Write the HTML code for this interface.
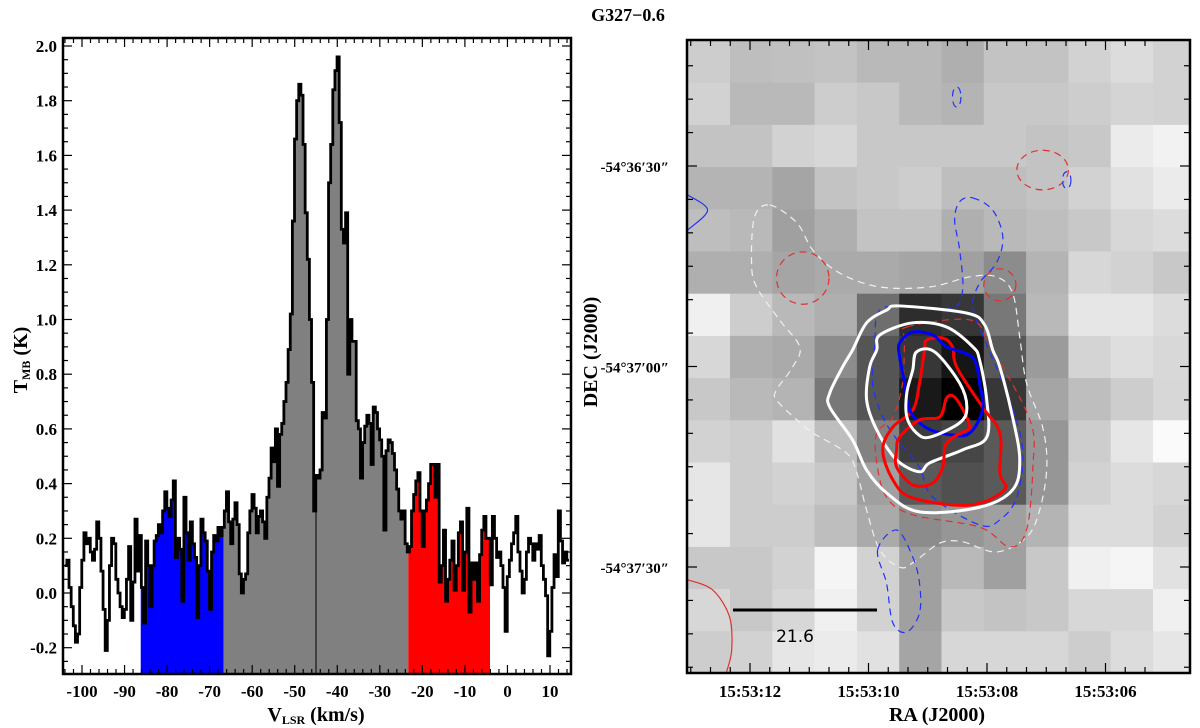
<!DOCTYPE html>
<html><head><meta charset="utf-8"><style>
html,body{margin:0;padding:0;background:#fff}
svg{display:block;font-family:"Liberation Serif",serif;font-weight:bold}
</style></head><body>
<svg id="fig" width="1200" height="728" viewBox="0 0 1200 728">
<text x="628" y="21" font-size="18" text-anchor="middle">G327−0.6</text>
<g id="left"></g>
<g id="right"></g>
</svg>
<script>
// ---------- spectrum data ----------
const specStartV = -103.8;
const specDV = 0.5;
const specT = [
.10,.12,.02,-.05,-.12,-.18,-.15,.02,.12,.22,
.18,.20,.15,.12,.16,.26,.20,.08,-.06,-.21,
-.10,.10,.20,.18,.05,0,-.05,-.09,-.06,.05,
.17,-.10,.04,.27,.08,.21,.02,-.11,.19,.10,
-.05,.10,.19,.21,.25,.22,.30,.37,.31,.28,
.34,.41,.13,.20,.16,-.03,.35,.22,.12,.26,
.18,.13,-.09,.10,.27,.22,.19,.08,-.06,.15,
.21,.19,.24,.21,.24,.30,.37,.26,.18,.27,
.33,.25,.07,0,.05,.07,.22,.30,.36,.31,
.22,.28,.30,.26,.20,.35,.42,.53,.48,.60,
.39,.58,.62,.70,.77,.89,1.02,1.36,1.66,1.80,
1.86,1.82,1.64,1.39,1.22,1.00,.77,.30,.43,.42,
.45,.66,.64,1.00,1.50,1.64,1.84,1.91,1.96,1.72,
1.33,1.28,1.39,.80,1.00,.92,.92,.63,.60,.42,
.55,.61,.65,.62,.47,.68,.66,.60,.56,.50,
.23,.52,.56,.55,.51,.45,.38,.30,.27,.30,
.18,.15,.17,.30,.36,.41,.44,.30,.17,.30,
.34,.40,.47,.47,.35,.47,.04,.10,.23,-.03,
.05,.12,.19,.01,.10,.22,.26,.01,.15,.31,
-.07,.11,.05,.11,-.03,.14,.23,.28,.20,.20,
.03,.28,.20,.13,.15,.10,.02,-.14,.06,.12,
.18,.22,.28,.15,.08,0,.05,.15,.20,.18,
.12,.18,.16,.21,.10,.05,-.01,-.23,-.14,.02,
.14,.06,.30,.19,.11,.15,.12];
const fillRanges = [[-86.2,-66.7,'#0000ff'],[-66.7,-23.3,'#808080'],[-23.3,-4.1,'#ff0000']];
const markerV = -45;
const xTickVals = [-100,-90,-80,-70,-60,-50,-40,-30,-20,-10,0,10];
const yTickVals = [-0.2,0,0.2,0.4,0.6,0.8,1.0,1.2,1.4,1.6,1.8,2.0];

// ---------- map data ----------
const mapGray = [
[205,190,192,195,185,185,175,195,195,210,220,210],
[210,185,185,205,200,185,180,200,200,205,212,210],
[195,195,210,215,200,200,200,200,195,200,235,242],
[180,180,165,195,200,205,190,190,195,210,225,235],
[190,185,160,175,195,195,175,185,190,200,215,220],
[175,175,165,170,170,165,160,140,180,215,210,200],
[240,205,185,175,110,45,55,120,185,230,230,220],
[215,175,170,140,85,55,22,88,155,212,222,216],
[200,185,180,120,85,25,0,55,165,190,205,215],
[210,205,225,190,130,60,70,90,150,205,230,250],
[230,205,210,200,160,90,80,90,150,210,220,215],
[230,205,205,190,170,140,150,160,180,220,220,210],
[200,200,210,245,210,160,185,160,200,240,245,225],
[215,200,215,240,210,160,200,195,200,215,215,240],
[205,210,230,235,225,165,215,215,215,205,220,230]];
const raTicks = ['15:53:12','15:53:10','15:53:08','15:53:06'];
const decTicks = ['-54°36′30″','-54°37′00″','-54°37′30″'];
const cWhiteOuter=[[5.01,6.29],[6.60,6.46],[7.02,6.74],[7.21,7.33],[7.38,7.74],[7.68,8.92],[7.85,9.94],[7.68,10.65],[6.90,11.06],[5.48,11.17],[4.70,10.72],[4.23,10.18],[3.90,9.47],[3.36,8.69],[3.36,8.35],[3.66,7.74],[3.90,7.33],[4.23,6.69],[4.70,6.39]];
const cWhiteMid=[[4.54,6.98],[5.32,6.69],[6.12,6.79],[6.74,7.26],[6.90,7.57],[7.07,8.52],[7.07,9.40],[6.50,9.70],[5.72,10.01],[5.48,10.22],[4.94,9.94],[4.47,9.23],[4.23,8.52],[4.30,7.74],[4.47,7.33]];
const cWhiteIn=[[5.41,7.38],[5.84,7.38],[6.43,8.12],[6.60,8.69],[6.43,9.06],[5.72,9.40],[5.41,9.30],[5.18,8.92],[5.18,8.35],[5.32,7.81]];
const cBlue=[[5.01,7.17],[5.32,6.91],[5.79,6.98],[6.12,7.26],[6.74,7.52],[6.90,8.12],[6.97,8.76],[6.67,9.30],[6.26,9.35],[5.65,9.18],[5.25,8.76],[5.13,8.12],[5.01,7.50]];
const cRedOuter=[[5.65,7.10],[6.03,7.05],[6.26,7.26],[6.36,7.74],[6.97,8.69],[7.38,9.30],[7.38,10.25],[7.49,10.65],[6.67,11.01],[5.32,10.84],[4.85,10.41],[4.61,9.70],[4.85,9.16],[5.32,8.76],[5.48,8.12],[5.60,7.33]];
const cRedInner=[[4.94,9.70],[5.01,9.40],[5.48,8.99],[5.96,8.92],[6.12,8.47],[6.31,8.45],[6.55,8.83],[6.67,9.16],[6.60,9.23],[6.12,9.54],[6.03,10.11],[5.79,10.49],[5.32,10.53],[4.94,10.11]];
const cWhiteDash=[[1.94,3.90],[2.58,4.32],[2.96,4.97],[3.59,5.51],[4.54,5.84],[5.72,5.84],[6.67,5.60],[7.30,5.60],[7.68,5.98],[7.85,7.03],[8.01,8.12],[8.39,9.16],[8.49,10.11],[8.32,11.13],[8.01,11.77],[7.30,12.12],[6.50,11.88],[5.96,11.91],[5.32,12.38],[5.01,12.48],[4.54,12.07],[4.23,11.13],[4.00,10.25],[3.76,9.78],[2.96,9.30],[2.58,8.99],[2.10,8.52],[2.10,8.28],[2.48,7.74],[2.65,7.26],[2.17,6.62],[1.63,5.84],[1.51,5.27],[1.58,4.18]];
const cBlueDashTall=[[6.74,3.73],[7.21,4.02],[7.45,4.66],[7.30,5.27],[6.90,5.75],[6.74,6.32],[7.02,7.10],[7.61,8.52],[7.92,9.70],[7.78,10.82],[7.38,11.36],[6.90,11.48],[5.79,10.82],[5.48,10.11],[5.01,9.54],[4.61,8.92],[4.37,8.12],[4.42,7.26],[4.54,6.39],[5.32,6.32],[6.26,6.34],[6.50,5.91],[6.43,4.97],[6.31,4.25],[6.43,3.82]];
const cBlueDashLow=[[4.49,12.07],[4.94,11.60],[5.32,12.24],[5.48,12.86],[5.48,13.57],[5.18,14.02],[4.85,13.80],[4.70,12.86]];
const cRedDashCore=[[5.18,6.79],[6.67,6.62],[7.14,7.22],[8.09,8.99],[8.16,10.11],[8.01,11.60],[7.61,12.00],[6.90,11.53],[5.32,11.24],[4.70,10.82],[4.47,10.01],[4.47,9.30],[4.85,8.92],[5.08,8.12],[5.13,7.10]];
const ellipses=[[6.36,1.34,0.10,0.24,'#2030ff'],[8.39,3.07,0.61,0.47,'#e03030'],[8.96,3.31,0.10,0.20,'#2030ff'],[2.72,5.63,0.62,0.62,'#e03030'],[7.38,5.79,0.38,0.38,'#e03030']];
const cBlueEdge=[[0,3.66],[0.47,4.02],[0,4.49]];
const cRedEdge=[[0,12.78],[0.59,13.02],[0.99,13.66],[1.04,14.44],[0.92,14.96]];

const NS='http://www.w3.org/2000/svg';
function mk(parent,tag,attrs){const e=document.createElementNS(NS,tag);for(const k in attrs)e.setAttribute(k,attrs[k]);parent.appendChild(e);return e;}

// ---------- left panel ----------
const L={x0:63,x1:571,y0:38,y1:674};
const xs=v=>82+(v+100)*4.2545;
const ys=t=>593-t*273.5;
const left=document.getElementById('left');
const defs=mk(left,'defs',{});
fillRanges.forEach((r,i)=>{const cp=mk(defs,'clipPath',{id:'cp'+i});mk(cp,'rect',{x:xs(r[0]),y:L.y0,width:xs(r[1])-xs(r[0]),height:L.y1-L.y0});});
const cpf=mk(defs,'clipPath',{id:'cpframe'});mk(cpf,'rect',{x:L.x0,y:L.y0,width:L.x1-L.x0,height:L.y1-L.y0});
let line='';
specT.forEach((t,i)=>{const v=specStartV+i*specDV;const a=xs(v-specDV/2),b=xs(v+specDV/2);line+=(i===0?'M'+a+','+ys(t):'V'+ys(t))+'H'+b;});
const area=line+'V'+L.y1+'H'+xs(specStartV-specDV/2)+'Z';
fillRanges.forEach((r,i)=>{const p=mk(left,'path',{d:area,fill:r[2],'clip-path':'url(#cp'+i+')'});

});
const mi=Math.round((markerV-specStartV)/specDV);
const mk1=mk(left,'line',{x1:xs(markerV),x2:xs(markerV),y1:L.y1,y2:ys(specT[mi]),stroke:'#000','stroke-width':1});


const sp=mk(left,'path',{d:line,fill:'none',stroke:'#000','stroke-width':2.8,'clip-path':'url(#cpframe)'});


const fr=mk(left,'rect',{x:L.x0,y:L.y0,width:L.x1-L.x0,height:L.y1-L.y0,fill:'none',stroke:'#000','stroke-width':2.5});


for(let v=-104;v<=15;v+=2){const X=xs(v),maj=(v%10===0),len=maj?9:5;
mk(left,'line',{x1:X,x2:X,y1:L.y1,y2:L.y1-len,stroke:'#000','stroke-width':1.2});
mk(left,'line',{x1:X,x2:X,y1:L.y0,y2:L.y0+len,stroke:'#000','stroke-width':1.2});}
xTickVals.forEach(v=>{const t=mk(left,'text',{x:xs(v),y:697,'font-size':17,'text-anchor':'middle'});t.textContent=v;

});
for(let k=-6;k<=40;k++){const T=k*0.05,Y=ys(T);if(Y<L.y0||Y>L.y1)continue;const len=(k%4===0)?9:5;
mk(left,'line',{x1:L.x0,x2:L.x0+len,y1:Y,y2:Y,stroke:'#000','stroke-width':1.2});
mk(left,'line',{x1:L.x1,x2:L.x1-len,y1:Y,y2:Y,stroke:'#000','stroke-width':1.2});}
yTickVals.forEach(v=>{const t=mk(left,'text',{x:57,y:ys(v)+6,'font-size':17,'text-anchor':'end'});t.textContent=v.toFixed(1);

});
const xl=mk(left,'text',{x:316,y:721,'font-size':20,'text-anchor':'middle'});
xl.innerHTML='V<tspan font-size="12" dy="3">LSR</tspan><tspan dy="-3"> (km/s)</tspan>';


const yl=mk(left,'text',{x:0,y:0,'font-size':20,'text-anchor':'middle',transform:'translate(27,360) rotate(-90)'});
yl.innerHTML='T<tspan font-size="12" dy="3">MB</tspan><tspan dy="-3"> (K)</tspan>';



// ---------- right panel ----------
const R={x0:687,x1:1190,y0:40,y1:673,cx:687.7,cy:40.5,cw:42.3,ch:42.2};
const gx=c=>R.cx+c*R.cw, gy=r=>R.cy+r*R.ch;
const right=document.getElementById('right');
const d2=mk(right,'defs',{});const cpr=mk(d2,'clipPath',{id:'cpmap'});mk(cpr,'rect',{x:R.x0,y:R.y0,width:R.x1-R.x0,height:R.y1-R.y0});
const mg=mk(right,'g',{'clip-path':'url(#cpmap)'});
mapGray.forEach((row,r)=>row.forEach((g,c)=>{const e=mk(mg,'rect',{x:gx(c),y:gy(r),width:R.cw+0.5,height:R.ch+0.5,fill:`rgb(${g},${g},${g})`});

}));
function smooth(pts,closed){const P=pts.map(p=>[gx(p[0]),gy(p[1])]);const n=P.length;let d='M'+P[0][0]+','+P[0][1];
const get=i=>closed?P[(i+n)%n]:P[Math.max(0,Math.min(n-1,i))];
const m=closed?n:n-1;for(let i=0;i<m;i++){const p0=get(i-1),p1=get(i),p2=get(i+1),p3=get(i+2);
d+=`C${p1[0]+(p2[0]-p0[0])/6},${p1[1]+(p2[1]-p0[1])/6} ${p2[0]-(p3[0]-p1[0])/6},${p2[1]-(p3[1]-p1[1])/6} ${p2[0]},${p2[1]}`;}
return d+(closed?'Z':'');}
function contour(pts,color,w,dash,name,closed=true){const e=mk(mg,'path',{d:smooth(pts,closed),fill:'none',stroke:color,'stroke-width':w});
if(dash)e.setAttribute('stroke-dasharray',dash);

}
contour(cWhiteDash,'#f0f0f0',1.2,'7,5','white-dashed-contour');
contour(cBlueDashTall,'#2030ff',1.2,'7,5','blue-dashed-contour');
contour(cBlueDashLow,'#2030ff',1.2,'7,5','blue-dashed-contour-south');
contour(cRedDashCore,'#e03030',1.2,'7,5','red-dashed-contour');
ellipses.forEach(el=>{const e=mk(mg,'ellipse',{cx:gx(el[0]),cy:gy(el[1]),rx:el[2]*R.cw,ry:el[3]*R.ch,fill:'none',stroke:el[4],'stroke-width':1.2,'stroke-dasharray':'7,5'});

});
contour(cBlueEdge,'#2030ff',1.2,null,'blue-edge-contour',false);
contour(cRedEdge,'#e03030',1.2,null,'red-edge-contour',false);
contour(cWhiteOuter,'#ffffff',3,null,'white-contour-outer');
contour(cWhiteMid,'#ffffff',3,null,'white-contour-mid');
contour(cRedOuter,'#ff0000',3,null,'red-contour-outer');
contour(cBlue,'#0000ff',3,null,'blue-contour');
contour(cRedInner,'#ff0000',3,null,'red-contour-inner');
contour(cWhiteIn,'#ffffff',3,null,'white-contour-inner');
const sb=mk(right,'line',{x1:733,x2:877,y1:610,y2:610,stroke:'#000','stroke-width':3});


const sbt=mk(right,'text',{x:795,y:642,'font-size':17,'text-anchor':'middle','font-family':'DejaVu Sans,sans-serif','font-weight':'normal'});sbt.textContent='21.6';


const fr2=mk(right,'rect',{x:R.x0,y:R.y0,width:R.x1-R.x0,height:R.y1-R.y0,fill:'none',stroke:'#000','stroke-width':2.5});


const raX=k=>750+k*118.5, decY=k=>166+k*200.5;
for(let k=-3;k<=20;k++){const X=750+k*118.5/6;if(X<=R.x0+2||X>=R.x1-2)continue;const len=(k%6===0)?10:6;
mk(right,'line',{x1:X,x2:X,y1:R.y1,y2:R.y1-len,stroke:'#000','stroke-width':1.2});
mk(right,'line',{x1:X,x2:X,y1:R.y0,y2:R.y0+len,stroke:'#000','stroke-width':1.2});}
for(let k=-4;k<=16;k++){const Y=166+k*200.5/6;if(Y<=R.y0+2||Y>=R.y1-2)continue;const len=(k%6===0)?10:6;
mk(right,'line',{x1:R.x0,x2:R.x0+len,y1:Y,y2:Y,stroke:'#000','stroke-width':1.2});
mk(right,'line',{x1:R.x1,x2:R.x1-len,y1:Y,y2:Y,stroke:'#000','stroke-width':1.2});}
raTicks.forEach((s,k)=>{const t=mk(right,'text',{x:raX(k),y:697,'font-size':17,'text-anchor':'middle'});t.textContent=s;

});
decTicks.forEach((s,k)=>{const t=mk(right,'text',{x:669,y:decY(k)+6,'font-size':15,'text-anchor':'end'});t.textContent=s;

});
const rx=mk(right,'text',{x:937,y:721,'font-size':20,'text-anchor':'middle'});rx.textContent='RA (J2000)';


const ry=mk(right,'text',{x:0,y:0,'font-size':20,'text-anchor':'middle',transform:'translate(597,352) rotate(-90)'});ry.textContent='DEC (J2000)';


</script>
</body></html>
